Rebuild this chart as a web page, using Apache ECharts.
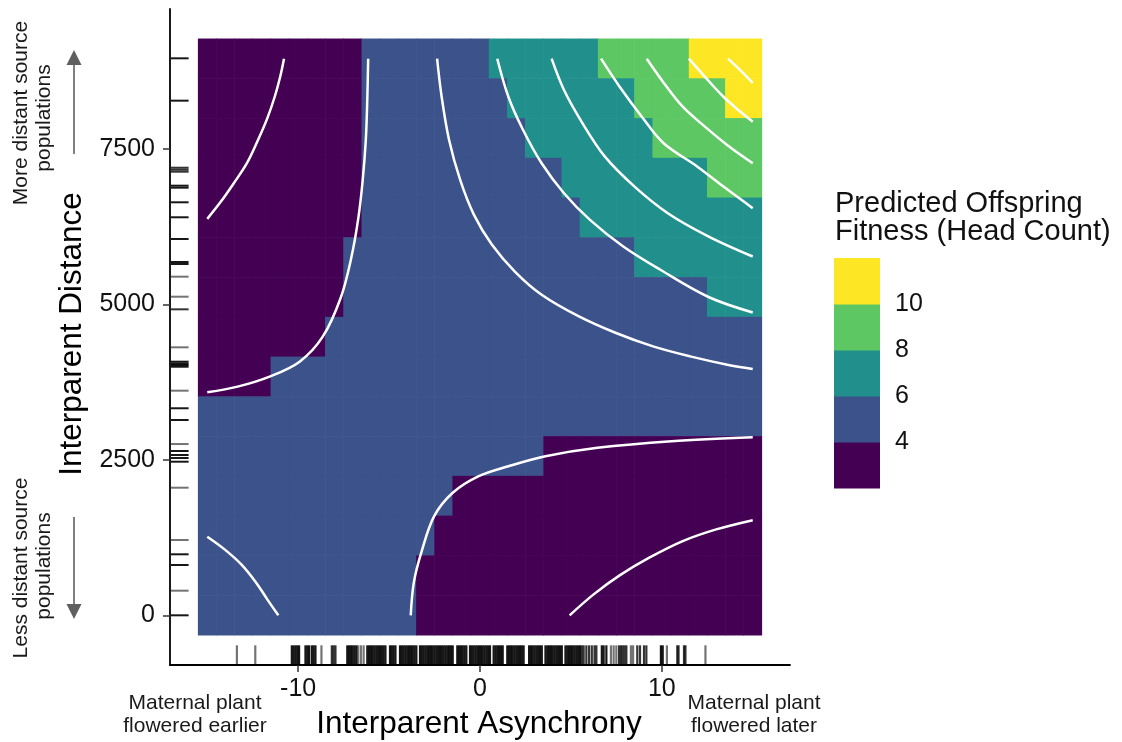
<!DOCTYPE html>
<html><head><meta charset="utf-8">
<script src="https://cdn.jsdelivr.net/npm/echarts@6/dist/echarts.min.js"></script>
<style>html,body{margin:0;padding:0;background:#fff}#c{width:1122px;height:742px}</style>
</head><body><div id="c"></div>
<script>
// ---------------- data ----------------
const asynchronyCells = [-15,-14,-13,-12,-11,-10,-9,-8,-7,-6,-5,-4,-3,-2,-1,0,1,2,3,4,5,6,7,8,9,10,11,12,13,14,15];
const distanceCells = [0,639,1279,1918,2557,3196,3836,4475,5114,5754,6393,7032,7671,8311,8950];
// predicted-fitness bin per cell (0:<4, 1:4-6, 2:6-8, 3:8-10, 4:>10), rows from distance 8950 down to 0, run-length [bin, count]
const fitnessBinRuns = [
  [[0,9],[1,7],[2,6],[3,5],[4,4]],
  [[0,9],[1,8],[2,7],[3,5],[4,2]],
  [[0,9],[1,9],[2,7],[3,6]],
  [[0,9],[1,11],[2,8],[3,3]],
  [[0,9],[1,12],[2,10]],
  [[0,8],[1,16],[2,7]],
  [[0,8],[1,20],[2,3]],
  [[0,7],[1,24]],
  [[0,4],[1,27]],
  [[1,31]],
  [[1,19],[0,12]],
  [[1,14],[0,17]],
  [[1,13],[0,18]],
  [[1,12],[0,19]],
  [[1,12],[0,19]]
];
const legendBreaks = ['4','6','8','10'];
const xTickValues = [-10, 0, 10];
const xTickLabels = ['-10', '0', '10'];
const yTickValues = [0, 2500, 5000, 7500];
const yTickLabels = ['0', '2500', '5000', '7500'];

// contour lines [asynchrony, distance]
const contour3UpperLeft = [[-10.78,8950],[-10.99,8659],[-11.29,8338],[-11.70,7991],[-12.21,7643],[-12.82,7269],[-13.54,6948],[-14.25,6652],[-15,6374]];
const contour4UpperLeft = [[-6.15,8950],[-6.20,8285],[-6.28,7643],[-6.45,7001],[-6.69,6391],[-7.08,5748],[-7.66,5106],[-8.65,4480],[-9.92,4078],[-11.57,3838],[-13.33,3677],[-15,3585]];
const contour5UpperRight = [[-2.36,8950],[-2.11,8338],[-1.70,7643],[-1.09,7001],[-0.33,6439],[0.66,5957],[1.93,5523],[3.39,5154],[5.44,4806],[7.48,4539],[9.52,4324],[11.56,4163],[13.60,4030],[15,3961]];
const contour6UpperRight = [[0.95,8950],[1.56,8338],[2.37,7803],[3.39,7269],[4.62,6787],[6.05,6358],[7.88,5930],[9.92,5556],[12.6,5114],[15,4870]];
const contour7UpperRight = [[3.94,8950],[4.62,8446],[5.64,7911],[6.87,7375],[8.50,6893],[10.33,6466],[12.58,6090],[15,5769]];
const contour8UpperRight = [[6.66,8950],[7.68,8499],[8.90,8017],[10.1,7590],[11.96,7214],[13.39,6893],[15,6546]];
const contour9UpperRight = [[9.17,8950],[10.13,8553],[11.15,8178],[12.37,7857],[13.59,7563],[15,7269]];
const contour10UpperRight = [[11.49,8950],[12.37,8659],[13.39,8338],[14.21,8125],[15,7937]];
const contour11UpperRight = [[13.64,8950],[14.31,8767],[15,8563]];
const contour4LowerRight = [[-3.81,0],[-3.64,525],[-3.23,1007],[-2.52,1594],[-1.50,1970],[-0.07,2237],[1.56,2397],[3.60,2558],[6.46,2693],[10.53,2799],[15,2863]];
const contour3LowerRight = [[4.93,0],[6.25,337],[7.68,642],[9.31,926],[11.15,1193],[12.99,1381],[15,1530]];
const contour5LowerLeft = [[-15,1263],[-14.05,1060],[-13.13,819],[-12.31,525],[-11.70,257],[-11.09,0]];

// rug: observed values [value, number of overlapping observations]
const rugDistance = [[8956,3],[8275,3],[7197,2],[7165,2],[7133,2],[6908,3],[6876,3],[6641,3],[6400,3],[6051,3],[5681,3],[5649,3],[5445,1],[5123,1],[4920,2],[4309,1],[4078,3],[4049,3],[4025,3],[3997,3],[3612,1],[3329,3],[3140,3],[2754,1],[2642,3],[2578,3],[2529,3],[2470,3],[2052,1],[1211,1],[981,3],[809,3],[396,1],[0,3]];
const rugAsynchrony = [
[-13.37,1],[-12.36,1],
[-10.35,3],[-10.25,3],[-10.15,3],[-10.05,3],[-9.95,3],
[-9.6,3],[-9.5,3],[-9.4,3],
[-9.25,3],[-9.15,3],[-9.05,3],
[-8.72,1],
[-8.15,2],[-8.05,2],[-7.95,2],
[-7.3,3],[-7.2,3],[-7.1,3],[-7.0,3],[-6.9,3],[-6.8,3],
[-6.7,1],[-6.55,1],[-6.4,1],
[-6.2,3],[-6.1,3],[-6.0,3],[-5.9,3],[-5.8,3],[-5.7,3],[-5.6,3],[-5.5,3],[-5.4,3],[-5.3,3],[-5.2,3],
[-4.95,3],[-4.85,3],[-4.75,3],[-4.65,3],
[-4.4,3],[-4.3,3],[-4.2,3],[-4.1,3],[-4.0,3],[-3.9,3],[-3.8,3],[-3.7,3],[-3.6,3],[-3.5,3],
[-3.3,3],[-3.2,3],[-3.1,3],[-3.0,3],[-2.9,3],[-2.8,3],[-2.7,3],[-2.6,3],[-2.5,3],[-2.4,3],[-2.3,3],[-2.2,3],[-2.1,3],[-2.0,3],[-1.9,3],[-1.8,3],[-1.7,3],[-1.6,3],[-1.5,3],
[-1.25,3],[-1.15,3],[-1.05,3],[-0.95,3],[-0.85,3],[-0.75,3],
[-0.55,3],[-0.45,3],[-0.35,3],[-0.25,3],[-0.15,3],[-0.05,3],[0.05,3],[0.15,3],[0.25,3],[0.35,3],[0.45,3],[0.55,3],
[0.75,3],[0.85,3],[0.95,3],[1.05,3],[1.15,3],[1.25,3],
[1.5,3],[1.6,3],[1.7,3],[1.8,3],[1.9,3],[2.0,3],[2.1,3],[2.2,3],[2.3,3],[2.4,3],
[2.7,3],[2.8,3],[2.9,3],[3.0,3],[3.1,3],[3.2,3],[3.3,3],[3.4,3],
[3.6,3],[3.7,3],[3.8,3],[3.9,3],[4.0,3],[4.1,3],[4.2,3],[4.3,3],[4.4,3],[4.5,3],
[4.7,3],[4.8,3],[4.9,3],[5.0,3],[5.1,3],[5.2,3],[5.3,3],[5.4,3],[5.5,3],
[5.6,2],[5.7,2],[5.85,2],[6.0,2],[6.15,2],[6.3,2],[6.4,2],
[6.7,3],[6.8,3],[6.95,3],
[7.2,1],[7.35,1],[7.5,1],
[7.65,2],[7.75,2],[7.85,2],[7.95,2],[8.05,2],
[8.3,1],[8.42,1],
[8.65,2],[8.8,2],
[9.02,2],[9.15,2],
[9.95,3],[10.05,3],
[10.28,1],
[10.85,2],[10.92,2],
[11.22,2],[11.3,2],
[12.4,1]
];

// ---------------- styling ----------------
const FONT = '"Liberation Sans", Arial, Helvetica, sans-serif';
const binColors = ['#440154', '#3B528B', '#21908C', '#5DC863', '#FDE725'];
const TEXT = '#111';

const cellW = asynchronyCells[1] - asynchronyCells[0];
const cellH = distanceCells[1] - distanceCells[0];
const xLo = asynchronyCells[0] - cellW / 2, xHi = asynchronyCells[asynchronyCells.length - 1] + cellW / 2;
const yLo = distanceCells[0] - cellH / 2, yHi = distanceCells[distanceCells.length - 1] + cellH / 2;
const xPad = (xHi - xLo) * 0.05, yPad = (yHi - yLo) * 0.05;

const cells = [];
fitnessBinRuns.forEach((runs, r) => {
  const d = distanceCells[distanceCells.length - 1 - r];
  let col = 0;
  runs.forEach(([bin, n]) => {
    for (let i = 0; i < n; i++) { cells.push([asynchronyCells[col], d, bin]); col++; }
  });
});

function renderTile(params, api) {
  const c = api.coord([api.value(0), api.value(1)]);
  const s = api.size([cellW, cellH]);
  return { type: 'rect', shape: { x: c[0] - s[0] / 2 - 0.3, y: c[1] - s[1] / 2 - 0.3, width: s[0] + 0.6, height: s[1] + 0.6 },
    style: { fill: binColors[api.value(2)] } };
}
function rugAlpha(n) { return 1 - Math.pow(0.45, n); }
function renderRugX(params, api) {
  const cs = params.coordSys;
  const p = api.coord([api.value(0), 0]);
  const yb = cs.y + cs.height;
  return { type: 'line', shape: { x1: p[0], y1: yb - 1, x2: p[0], y2: yb - cs.height * 0.03 },
    style: { stroke: 'rgba(0,0,0,' + rugAlpha(api.value(2)) + ')', lineWidth: 2.2 } };
}
function renderRugY(params, api) {
  const cs = params.coordSys;
  const p = api.coord([0, api.value(1)]);
  return { type: 'line', shape: { x1: cs.x + 1, y1: p[1], x2: cs.x + cs.width * 0.03, y2: p[1] },
    style: { stroke: 'rgba(0,0,0,' + rugAlpha(api.value(2)) + ')', lineWidth: 2 } };
}

const contours = [contour3UpperLeft, contour4UpperLeft, contour5UpperRight, contour6UpperRight, contour7UpperRight,
  contour8UpperRight, contour9UpperRight, contour10UpperRight, contour11UpperRight, contour4LowerRight, contour3LowerRight, contour5LowerLeft];

const series = [
  { type: 'custom', renderItem: renderTile, data: cells, encode: { x: 0, y: 1 }, silent: true, z: 1 },
  ...contours.map(c => ({ type: 'line', data: c, showSymbol: false, symbol: 'none', smooth: 0.35, silent: true, z: 3,
    lineStyle: { color: '#ffffff', width: 2.5 } })),
  { type: 'custom', renderItem: renderRugX, data: rugAsynchrony.map(([a, n]) => [a, 0, n]), encode: { x: 0, y: 1 }, silent: true, z: 4 },
  { type: 'custom', renderItem: renderRugY, data: rugDistance.map(([d, n]) => [0, d, n]), encode: { x: 0, y: 1 }, silent: true, z: 4 }
];

// legend + annotations (graphic)
const gfx = [];
const lgX = 834, lgY = 258, lgW = 46, lgH = 46;
for (let i = 0; i < binColors.length; i++) {
  gfx.push({ type: 'rect', shape: { x: lgX, y: lgY + (binColors.length - 1 - i) * lgH, width: lgW, height: lgH + 0.5 }, style: { fill: binColors[i] } });
}
legendBreaks.forEach((t, i) => {
  gfx.push({ type: 'text', x: 895, y: lgY + (binColors.length - 1 - i) * lgH, style: { text: t, font: '25px ' + FONT, fill: TEXT, align: 'left', verticalAlign: 'middle' } });
});
gfx.push({ type: 'text', x: 835, y: 204, style: { text: 'Predicted Offspring', font: '29px ' + FONT, fill: TEXT, align: 'left', verticalAlign: 'middle' } });
gfx.push({ type: 'text', x: 835, y: 232, style: { text: 'Fitness (Head Count)', font: '29px ' + FONT, fill: TEXT, align: 'left', verticalAlign: 'middle' } });
// axis titles
gfx.push({ type: 'text', x: 479, y: 724, style: { text: 'Interparent Asynchrony', font: '31.5px ' + FONT, fill: '#000', align: 'center', verticalAlign: 'middle' } });
gfx.push({ type: 'text', x: 72, y: 334, rotation: Math.PI / 2, style: { text: 'Interparent Distance', font: '31.5px ' + FONT, fill: '#000', align: 'center', verticalAlign: 'middle' } });
// side annotations
function ann(text, x, y, rot) { gfx.push({ type: 'text', x: x, y: y, rotation: rot || 0, style: { text: text, font: '21px ' + FONT, fill: '#1a1a1a', align: 'center', verticalAlign: 'middle' } }); }
ann('More distant source', 21, 113, Math.PI / 2);
ann('populations', 44.5, 118, Math.PI / 2);
ann('Less distant source', 21, 568, Math.PI / 2);
ann('populations', 44.5, 566, Math.PI / 2);
ann('Maternal plant', 195, 703);
ann('flowered earlier', 195, 726.5);
ann('Maternal plant', 754, 703);
ann('flowered later', 754, 726.5);
// arrows
const AR = '#5f5f5f';
gfx.push({ type: 'line', shape: { x1: 74, y1: 154, x2: 74, y2: 62 }, style: { stroke: AR, lineWidth: 1.6 } });
gfx.push({ type: 'polygon', shape: { points: [[74, 50], [66.5, 65], [81.5, 65]] }, style: { fill: AR } });
gfx.push({ type: 'line', shape: { x1: 74, y1: 517, x2: 74, y2: 608 }, style: { stroke: AR, lineWidth: 1.6 } });
gfx.push({ type: 'polygon', shape: { points: [[74, 619], [66.5, 604], [81.5, 604]] }, style: { fill: AR } });

const chart = echarts.init(document.getElementById('c'), null, { renderer: 'canvas' });
chart.setOption({
  backgroundColor: '#ffffff',
  animation: false,
  grid: { left: 170, top: 9, width: 620, height: 656, containLabel: false },
  xAxis: {
    type: 'value', min: xLo - xPad, max: xHi + xPad,
    splitLine: { show: false },
    axisLine: { onZero: false, lineStyle: { color: '#000', width: 1.8 } },
    axisTick: { customValues: xTickValues, length: 7, lineStyle: { color: '#333', width: 1.5 } },
    axisLabel: { customValues: xTickValues, margin: 12, fontSize: 25, fontFamily: FONT, color: TEXT,
      formatter: v => xTickLabels[xTickValues.indexOf(v)] }
  },
  yAxis: {
    type: 'value', min: yLo - yPad, max: yHi + yPad,
    splitLine: { show: false },
    axisLine: { onZero: false, lineStyle: { color: '#000', width: 1.8 } },
    axisTick: { customValues: yTickValues, length: 7, lineStyle: { color: '#333', width: 1.5 } },
    axisLabel: { customValues: yTickValues, margin: 15, fontSize: 25, fontFamily: FONT, color: TEXT,
      formatter: v => yTickLabels[yTickValues.indexOf(v)] }
  },
  series: series,
  graphic: gfx
});
</script></body></html>
